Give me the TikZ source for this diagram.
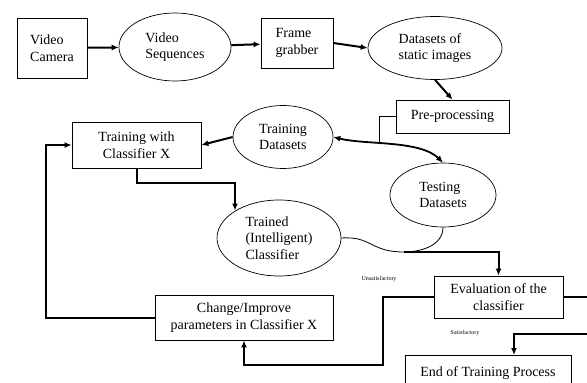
\documentclass[tikz,border=0pt]{standalone}
\usepackage{fontspec}
\setmainfont{Liberation Serif}
\usetikzlibrary{shapes.geometric,arrows.meta,calc}
\begin{document}
\begin{tikzpicture}[x=1pt,y=-1pt,
  every node/.style={font=\fontsize{14}{16.5}\selectfont, align=left, inner sep=0pt},
  box/.style={draw, line width=0.8pt, rectangle},
  oval/.style={draw, line width=0.7pt, ellipse},
  conn/.style={line width=2pt, -{Latex[length=7pt,width=6pt]}},
  thin/.style={line width=0.8pt},
  lab/.style={font=\fontsize{6}{7}\selectfont}]
\useasboundingbox (0,0) rectangle (587,383);
\clip (0,0) rectangle (587,383);
\fill[white] (0,0) rectangle (587,383);

\node[box, minimum width=70, minimum height=60] (cam) at (52,48) {Video\\Camera};
\node[oval, minimum width=112, minimum height=68] (seq) at (175,47) {Video\\Sequences};
\node[box, minimum width=72, minimum height=50] (fg) at (297,43) {Frame\\grabber};
\node[oval, minimum width=134, minimum height=63] (ds) at (435,48) {Datasets of\\static images};
\node[box, minimum width=113, minimum height=33] (pre) at (452.5,116.5) {Pre-processing};
\node[box, minimum width=129, minimum height=46, align=center] (train) at (136.5,145) {Training with\\Classifier X};
\node[oval, minimum width=100, minimum height=63] (td) at (283,137) {Training\\Datasets};
\node[oval, minimum width=106, minimum height=64] (test) at (443,195) {Testing\\Datasets};
\node[oval, minimum width=124, minimum height=76] (trained) at (279,238) {Trained\\(Intelligent)\\Classifier};
\node[box, minimum width=178, minimum height=45, align=center] (chg) at (244,317.5) {Change/Improve\\parameters in Classifier X};
\node[box, minimum width=129, minimum height=42, align=center] (eval) at (498.5,297) {Evaluation of the\\classifier};
\node[box, minimum width=166, minimum height=36, anchor=north] (end) at (488,355) {End of Training Process};

\node[lab] (uns) at (379,279) {Unsatisfactory};
\node[lab] (sat) at (465,333) {Satisfactory};

\coordinate (junc) at (379,143.5);
\coordinate (tt) at (235,210.5);
\coordinate (jb) at (404,252);

\draw[conn] (cam) -- (seq);
\draw[conn] (seq) -- (fg);
\draw[conn] (fg.east) -- (ds.west);
\draw[conn] (ds.south) -- (pre.north);
\draw[conn] (td.west) -- (train.east);
\draw[line width=1.8pt, {Latex[length=7pt,width=6pt]}-{Latex[length=7pt,width=6pt]}]
  (td.east) .. controls (365,145) and (420,140) .. (test.north);
\draw[thin] (pre.west) -| (junc);
\draw[conn] (train.south) |- ($(tt)+(0,-27.5)$) -- (tt);
\draw[thin] (trained.east) .. controls (372,236) and (370,252) .. (jb);
\draw[thin] (test.south) .. controls (443,246) and (420,252) .. (jb);
\draw[conn] (jb) -| (eval.north);
\draw[conn] (eval.west) -- ++(-51,0) |- ($(chg.south)+(0,25)$) -- (chg.south);
\draw[conn] (chg.west) -- ++(-109,0) |- (train.west);
\draw[conn] (eval.east) -- ++(30,0) |- ($(end.north)+(26,-21)$) -- ($(end.north)+(26,0)$);
\end{tikzpicture}
\end{document}
